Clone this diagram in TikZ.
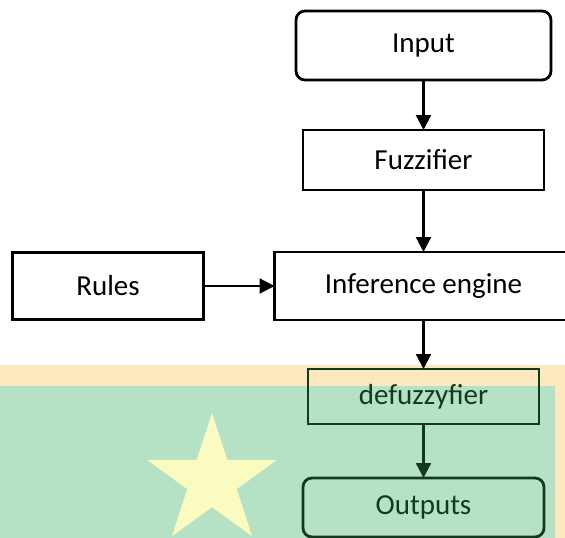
\documentclass[tikz,border=0pt]{standalone}
\usepackage{fontspec}
\setmainfont{Carlito}
\usetikzlibrary{arrows.meta, positioning, shapes.geometric}
\definecolor{flagYellow}{HTML}{FDE9BF}
\definecolor{flagGreen}{HTML}{B5E1C5}
\definecolor{starYellow}{HTML}{FAFBBE}
\definecolor{inkGreen}{HTML}{123A1C}

\begin{document}
\begin{tikzpicture}[
    x=1pt, y=-1pt,
    node distance=50pt,
    block/.style={rectangle, draw=black, line width=2.8pt, inner sep=0pt, outer sep=0pt,
                  font=\fontsize{29}{34}\selectfont},
    roundblock/.style={block, rounded corners=9pt},
    greenblock/.style={draw=inkGreen, text=inkGreen},
    flow/.style={-{Triangle[length=15pt, width=15pt]}, line width=2.2pt},
  ]
    % page and the watermark behind the lower part
    \useasboundingbox (0,0) rectangle (565,538);
    \fill[flagYellow] (0,365) rectangle (565,538);
    \fill[flagGreen] (0,386) rectangle (555,538);
    \node[star, star points=5, star point ratio=2.6, minimum size=136pt,
          inner sep=0pt, fill=starYellow] (flagstar) at (212,481) {};

    \node[roundblock, minimum width=255pt, minimum height=69pt] (input) at (423.5,45.5) {Input};
    \node[block, minimum width=241pt, minimum height=60pt, below=50pt of input] (fuzz) {Fuzzifier};
    \node[block, minimum width=298pt, minimum height=68pt, below=62pt of fuzz] (infer) {Inference engine};
    \node[block, minimum width=191pt, minimum height=67pt, left=71pt of infer] (rules) {Rules};
    \node[block, greenblock, minimum width=231pt, minimum height=55pt, below=49pt of infer] (defuzz) {defuzzyfier};
    \node[roundblock, greenblock, minimum width=241pt, minimum height=59pt, below=54pt of defuzz] (outputs) {Outputs};

    \draw[flow] (input) -- (fuzz);
    \draw[flow] (fuzz) -- (infer);
    \draw[flow] (rules) -- (infer);
    \draw[flow] (infer) -- (defuzz);
    \draw[flow, draw=inkGreen, fill=inkGreen] (defuzz) -- (outputs);
  \end{tikzpicture}
\end{document}
